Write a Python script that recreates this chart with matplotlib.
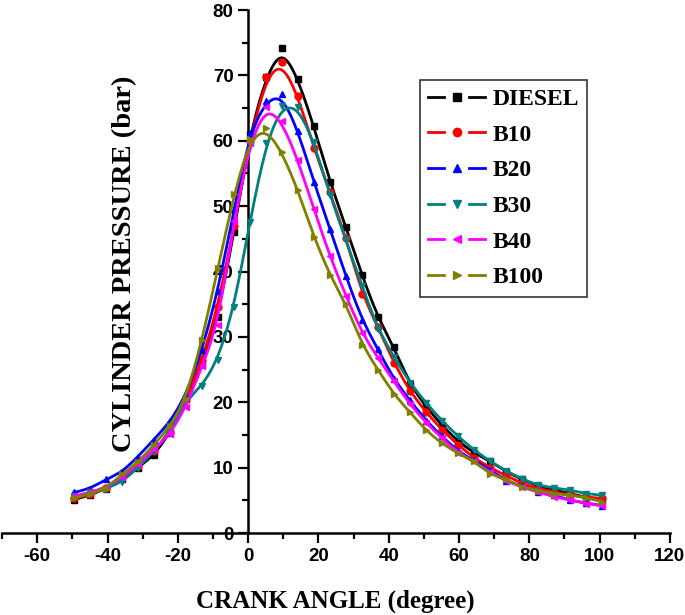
import numpy as np
import matplotlib
matplotlib.use('Agg')
import matplotlib.pyplot as plt
from matplotlib.lines import Line2D
from matplotlib.legend_handler import HandlerTuple
from matplotlib.ticker import MultipleLocator

# crank angle (degree) of the measured points
ANGLE = [-49.5, -45.0, -40.4, -35.9, -31.3, -26.8, -22.2, -17.7, -13.1, -8.6,
         -4.0, 0.5, 5.1, 9.6, 14.2, 18.7, 23.3, 27.8, 32.4, 36.9,
         41.5, 46.0, 50.6, 55.1, 59.7, 64.2, 68.8, 73.3, 77.9, 82.4,
         87.0, 91.5, 96.1, 100.6]

# cylinder pressure (bar)
DIESEL = [5.1, 5.8, 6.8, 8.3, 10.0, 11.9, 15.3, 20.5, 26.0, 33.0,
          46.0, 61.0, 69.8, 74.2, 69.5, 62.2, 53.7, 46.8, 39.4, 33.0,
          28.4, 22.8, 19.3, 16.5, 14.0, 12.3, 11.0, 9.4, 8.2, 7.2,
          6.6, 6.0, 5.5, 5.0]
B10 = [5.3, 5.9, 6.9, 8.5, 10.3, 12.5, 15.5, 20.5, 26.5, 34.5,
       47.0, 60.0, 69.7, 72.1, 66.8, 58.9, 52.1, 45.2, 36.6, 31.5,
       26.0, 21.7, 18.5, 15.8, 13.5, 11.5, 10.0, 8.8, 7.6, 6.8,
       6.3, 5.8, 5.5, 5.3]
B20 = [6.2, 6.8, 8.2, 9.3, 11.7, 14.3, 17.0, 21.0, 28.0, 37.0,
       49.5, 61.2, 66.1, 67.1, 61.5, 53.7, 46.5, 39.3, 32.6, 28.1,
       23.5, 20.3, 17.2, 14.8, 12.5, 11.1, 9.7, 8.0, 7.2, 6.3,
       5.8, 5.0, 4.6, 4.2]
B30 = [5.6, 6.2, 6.8, 7.8, 10.0, 12.5, 15.5, 20.3, 22.5, 26.5,
       34.5, 47.6, 59.7, 65.3, 65.2, 59.8, 51.7, 44.8, 37.8, 31.2,
       26.9, 23.0, 19.9, 17.2, 14.8, 12.7, 11.0, 9.5, 8.3, 7.3,
       6.9, 6.6, 6.0, 5.8]
B40 = [5.6, 6.2, 7.0, 8.5, 10.5, 12.8, 15.1, 19.3, 25.5, 31.8,
       47.7, 59.7, 65.2, 63.0, 57.0, 49.5, 42.3, 36.3, 30.6, 26.8,
       23.2, 19.7, 16.9, 14.5, 12.3, 11.0, 9.3, 8.0, 7.0, 6.3,
       5.5, 5.1, 4.5, 4.2]
B100 = [5.3, 6.0, 6.8, 9.0, 10.8, 13.5, 16.3, 20.5, 29.5, 40.5,
        51.8, 60.3, 61.9, 58.3, 52.4, 45.3, 39.4, 35.1, 28.8, 25.0,
        21.2, 18.5, 15.7, 13.7, 12.2, 11.0, 9.0, 8.2, 7.0, 6.5,
        6.0, 5.8, 5.4, 4.8]

LABELS = ['DIESEL', 'B10', 'B20', 'B30', 'B40', 'B100']
SERIES = [DIESEL, B10, B20, B30, B40, B100]
COLORS = ['#000000', '#ff0000', '#0000ff', '#008080', '#ff00ff', '#808000']
MARKERS = ['s', 'o', '^', 'v', '<', '>']


def bspline(x, y, steps=20):
    """
    Uniform cubic B-spline through the control points (x, y),
    clamped at both ends, like the B-spline line of Origin.
    """
    px = np.concatenate([[x[0]] * 2, x, [x[-1]] * 2])
    py = np.concatenate([[y[0]] * 2, y, [y[-1]] * 2])
    t = np.linspace(0, 1, steps, endpoint=False)
    b0 = (1 - t) ** 3 / 6
    b1 = (3 * t ** 3 - 6 * t ** 2 + 4) / 6
    b2 = (-3 * t ** 3 + 3 * t ** 2 + 3 * t + 1) / 6
    b3 = t ** 3 / 6
    xs, ys = [], []
    for i in range(len(px) - 3):
        xs.append(b0 * px[i] + b1 * px[i + 1] + b2 * px[i + 2] + b3 * px[i + 3])
        ys.append(b0 * py[i] + b1 * py[i + 1] + b2 * py[i + 2] + b3 * py[i + 3])
    xs.append([x[-1]])
    ys.append([y[-1]])
    return np.concatenate(xs), np.concatenate(ys)


plt.rcParams['axes.unicode_minus'] = False
serif = ['Liberation Serif', 'DejaVu Serif']
sans = ['Liberation Sans', 'DejaVu Sans']

fig = plt.figure(figsize=(6.85, 6.15), dpi=100)
ax = fig.add_axes([0.003, 0.1333, 0.975, 0.8504])

X = np.array(ANGLE)
handles = []
for label, values, color, marker in zip(LABELS, SERIES, COLORS, MARKERS):
    sx, sy = bspline(X, np.array(values))
    ax.plot(sx, sy, '-', color=color, lw=2, zorder=3)
    ax.plot(X, values, marker, color=color, ms=5, zorder=3)
    # legend key: dash, marker, dash
    dash = Line2D([], [], color=color, lw=2)
    dot = Line2D([], [], color=color, lw=0, marker=marker, ms=6)
    handles.append((dash, dot, dash))

ax.set_xlim(-70, 120)
ax.set_ylim(0, 80)
ax.spines['left'].set_position(('data', 0))
ax.spines['top'].set_visible(False)
ax.spines['right'].set_visible(False)
for side in ['left', 'bottom']:
    ax.spines[side].set_linewidth(1.8)

ax.xaxis.set_major_locator(MultipleLocator(20))
ax.xaxis.set_minor_locator(MultipleLocator(10))
ax.yaxis.set_major_locator(MultipleLocator(10))
ax.yaxis.set_minor_locator(MultipleLocator(5))
ax.tick_params(which='major', direction='out', length=7, width=1.6,
               labelsize=13.5)
ax.tick_params(which='minor', direction='out', length=4.5, width=1.6)
for lab in ax.get_xticklabels() + ax.get_yticklabels():
    lab.set_fontfamily(sans)
    lab.set_fontweight('bold')

fig.text(0.182, 0.571, 'CYLINDER PRESSURE (bar)', rotation=90,
         ha='center', va='center', fontsize=20.5, fontweight='bold',
         family=serif)
fig.text(0.489, 0.023, 'CRANK ANGLE (degree)', ha='center', va='center',
         fontsize=18, fontweight='bold', family=serif)

leg = ax.legend(handles, LABELS, loc='upper left',
                bbox_to_anchor=(0.626, 0.866), borderaxespad=0,
                fancybox=False, handlelength=2.4, handletextpad=0.3,
                labelspacing=0.6, borderpad=0.35, numpoints=1,
                handler_map={tuple: HandlerTuple(ndivide=None, pad=0.2)},
                prop={'family': serif, 'weight': 'bold', 'size': 17})
leg.get_frame().set_edgecolor('black')
leg.get_frame().set_linewidth(1.2)

plt.savefig('out.png', dpi=100)
